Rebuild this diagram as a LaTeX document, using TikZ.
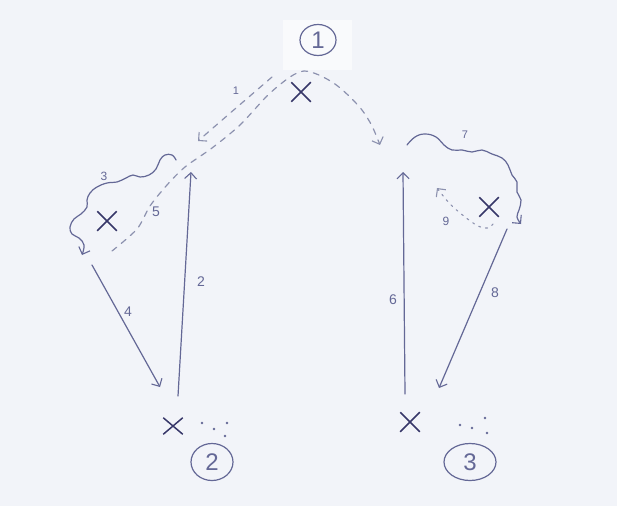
\documentclass[tikz,border=0pt]{standalone}
\usepackage{fontspec}
\setmainfont{Liberation Sans}
\usetikzlibrary{arrows.meta,shapes.misc,shapes.geometric}
\definecolor{paperc}{RGB}{242,244,249}
\definecolor{patchc}{RGB}{249,250,252}
\definecolor{inkc}{RGB}{100,104,150}
\definecolor{xc}{RGB}{55,55,105}
\definecolor{dashc}{RGB}{140,145,175}
\begin{document}
\begin{tikzpicture}[x=1pt,y=-1pt,
  ink/.style={draw=inkc, line width=1.2pt, line cap=round, line join=round},
  dashline/.style={draw=dashc, line width=1.2pt, dash pattern=on 6pt off 6pt, line cap=round},
  dotline/.style={draw=dashc, line width=1.1pt, dash pattern=on 2pt off 5pt, line cap=round},
  barbend/.style={-{Straight Barb[length=6pt,width=12pt,line width=1.1pt]}},
  xmark/.style={cross out, draw=xc, line width=1.5pt, minimum width=18pt, minimum height=18pt, inner sep=0pt},
  num/.style={text=inkc, font=\fontsize{14}{14}\selectfont},
  ring/.style={ellipse, draw=inkc, line width=1.2pt, text=inkc, font=\fontsize{24}{24}\selectfont, inner sep=0pt},
  speck/.style={circle, fill=inkc, inner sep=0pt, minimum size=2.6pt}]

% paper
\fill[paperc] (0,0) rectangle (617,506);
\fill[patchc] (283,20) rectangle (352,70);

% places
\node[ring, minimum width=36pt, minimum height=31pt] (n1) at (318,40) {1};
\node[ring, minimum width=42pt, minimum height=37pt] (n2) at (212,462) {2};
\node[ring, minimum width=52pt, minimum height=37pt] (n3) at (470,462) {3};

% crosses
\node[xmark] (xtop) at (301,92) {};
\node[xmark] (xl) at (107,221) {};
\node[xmark] (xr) at (489,207) {};
\node[xmark, minimum height=15pt] (xb2) at (173,426) {};
\node[xmark] (xb3) at (410,422) {};

% end points of the strokes
\coordinate (a1s) at (272,77);
\coordinate (a1e) at (198,141);
\coordinate (c5s) at (112,251);
\coordinate (c5e) at (380,145);
\coordinate (b2bot) at (178,396);
\coordinate (b2top) at (191,172);
\coordinate (b4s) at (92,265);
\coordinate (b4e) at (160,387);
\coordinate (b6bot) at (405,394);
\coordinate (b6top) at (403,172);
\coordinate (b8s) at (507,229);
\coordinate (b8e) at (439,388);
\coordinate (d9s) at (493,224);
\coordinate (d9e) at (437,188);
\coordinate (w3s) at (176,160);
\coordinate (w3e) at (82,255);
\coordinate (w7s) at (407,145);
\coordinate (w7e) at (521,224);

% dashed moves from the top
\draw[dashline, barbend] (a1s) .. controls (250,96) and (222,120) .. (a1e);
\draw[dashline, barbend] plot[smooth] coordinates {(c5s) (137,229) (150,206) (167,185) (185,167) (212,148) (240,125) (268,95) (290,77) (304,71) (319,75) (335,84) (349,96) (362,110) (372,126) (c5e)};

% solid moves
\draw[ink, barbend] (b2bot) -- (b2top);
\draw[ink, barbend] (b4s) -- (b4e);
\draw[ink, barbend] (b6bot) -- (b6top);
\draw[ink, barbend] (b8s) -- (b8e);

% wavy moves
\draw[ink, barbend] plot[smooth, tension=0.7] coordinates {(w3s) (172,155) (165,155) (160,160) (156,169) (149,175) (140,177) (133,175) (126,178) (117,182) (107,183) (97,187) (90,193) (87,200) (87,207) (81,214) (74,219) (70,227) (72,234) (79,238) (84,245) (w3e)};
\draw[ink, barbend] plot[smooth, tension=0.7] coordinates {(w7s) (415,137) (425,134) (436,137) (444,145) (452,150) (462,150) (472,152) (482,150) (492,154) (502,158) (508,165) (512,175) (517,182) (517,192) (521,200) (519,210) (517,217) (w7e)};

% dotted move
\draw[dotline, barbend] plot[smooth] coordinates {(d9s) (488,228) (478,226) (465,217) (450,204) (d9e)};

% labels
\node[num, font=\fontsize{11}{11}\selectfont] (l1) at (236,91) {1};
\node[num] (l2) at (201,282) {2};
\node[num, font=\fontsize{12}{12}\selectfont] (l3) at (104,176) {3};
\node[num] (l4) at (128,312) {4};
\node[num] (l5) at (156,212) {5};
\node[num] (l6) at (393,300) {6};
\node[num, font=\fontsize{11}{11}\selectfont] (l7) at (465,135) {7};
\node[num] (l8) at (495,293) {8};
\node[num, font=\fontsize{12}{12}\selectfont] (l9) at (446,221) {9};

% trailing specks
\node[speck] (s21) at (202,423) {};
\node[speck] (s22) at (214,429) {};
\node[speck] (s23) at (227,423) {};
\node[speck] (s24) at (225,436) {};
\node[speck] (s31) at (460,425) {};
\node[speck] (s32) at (472,428) {};
\node[speck] (s33) at (485,418) {};
\node[speck] (s34) at (487,433) {};
\end{tikzpicture}
\end{document}
